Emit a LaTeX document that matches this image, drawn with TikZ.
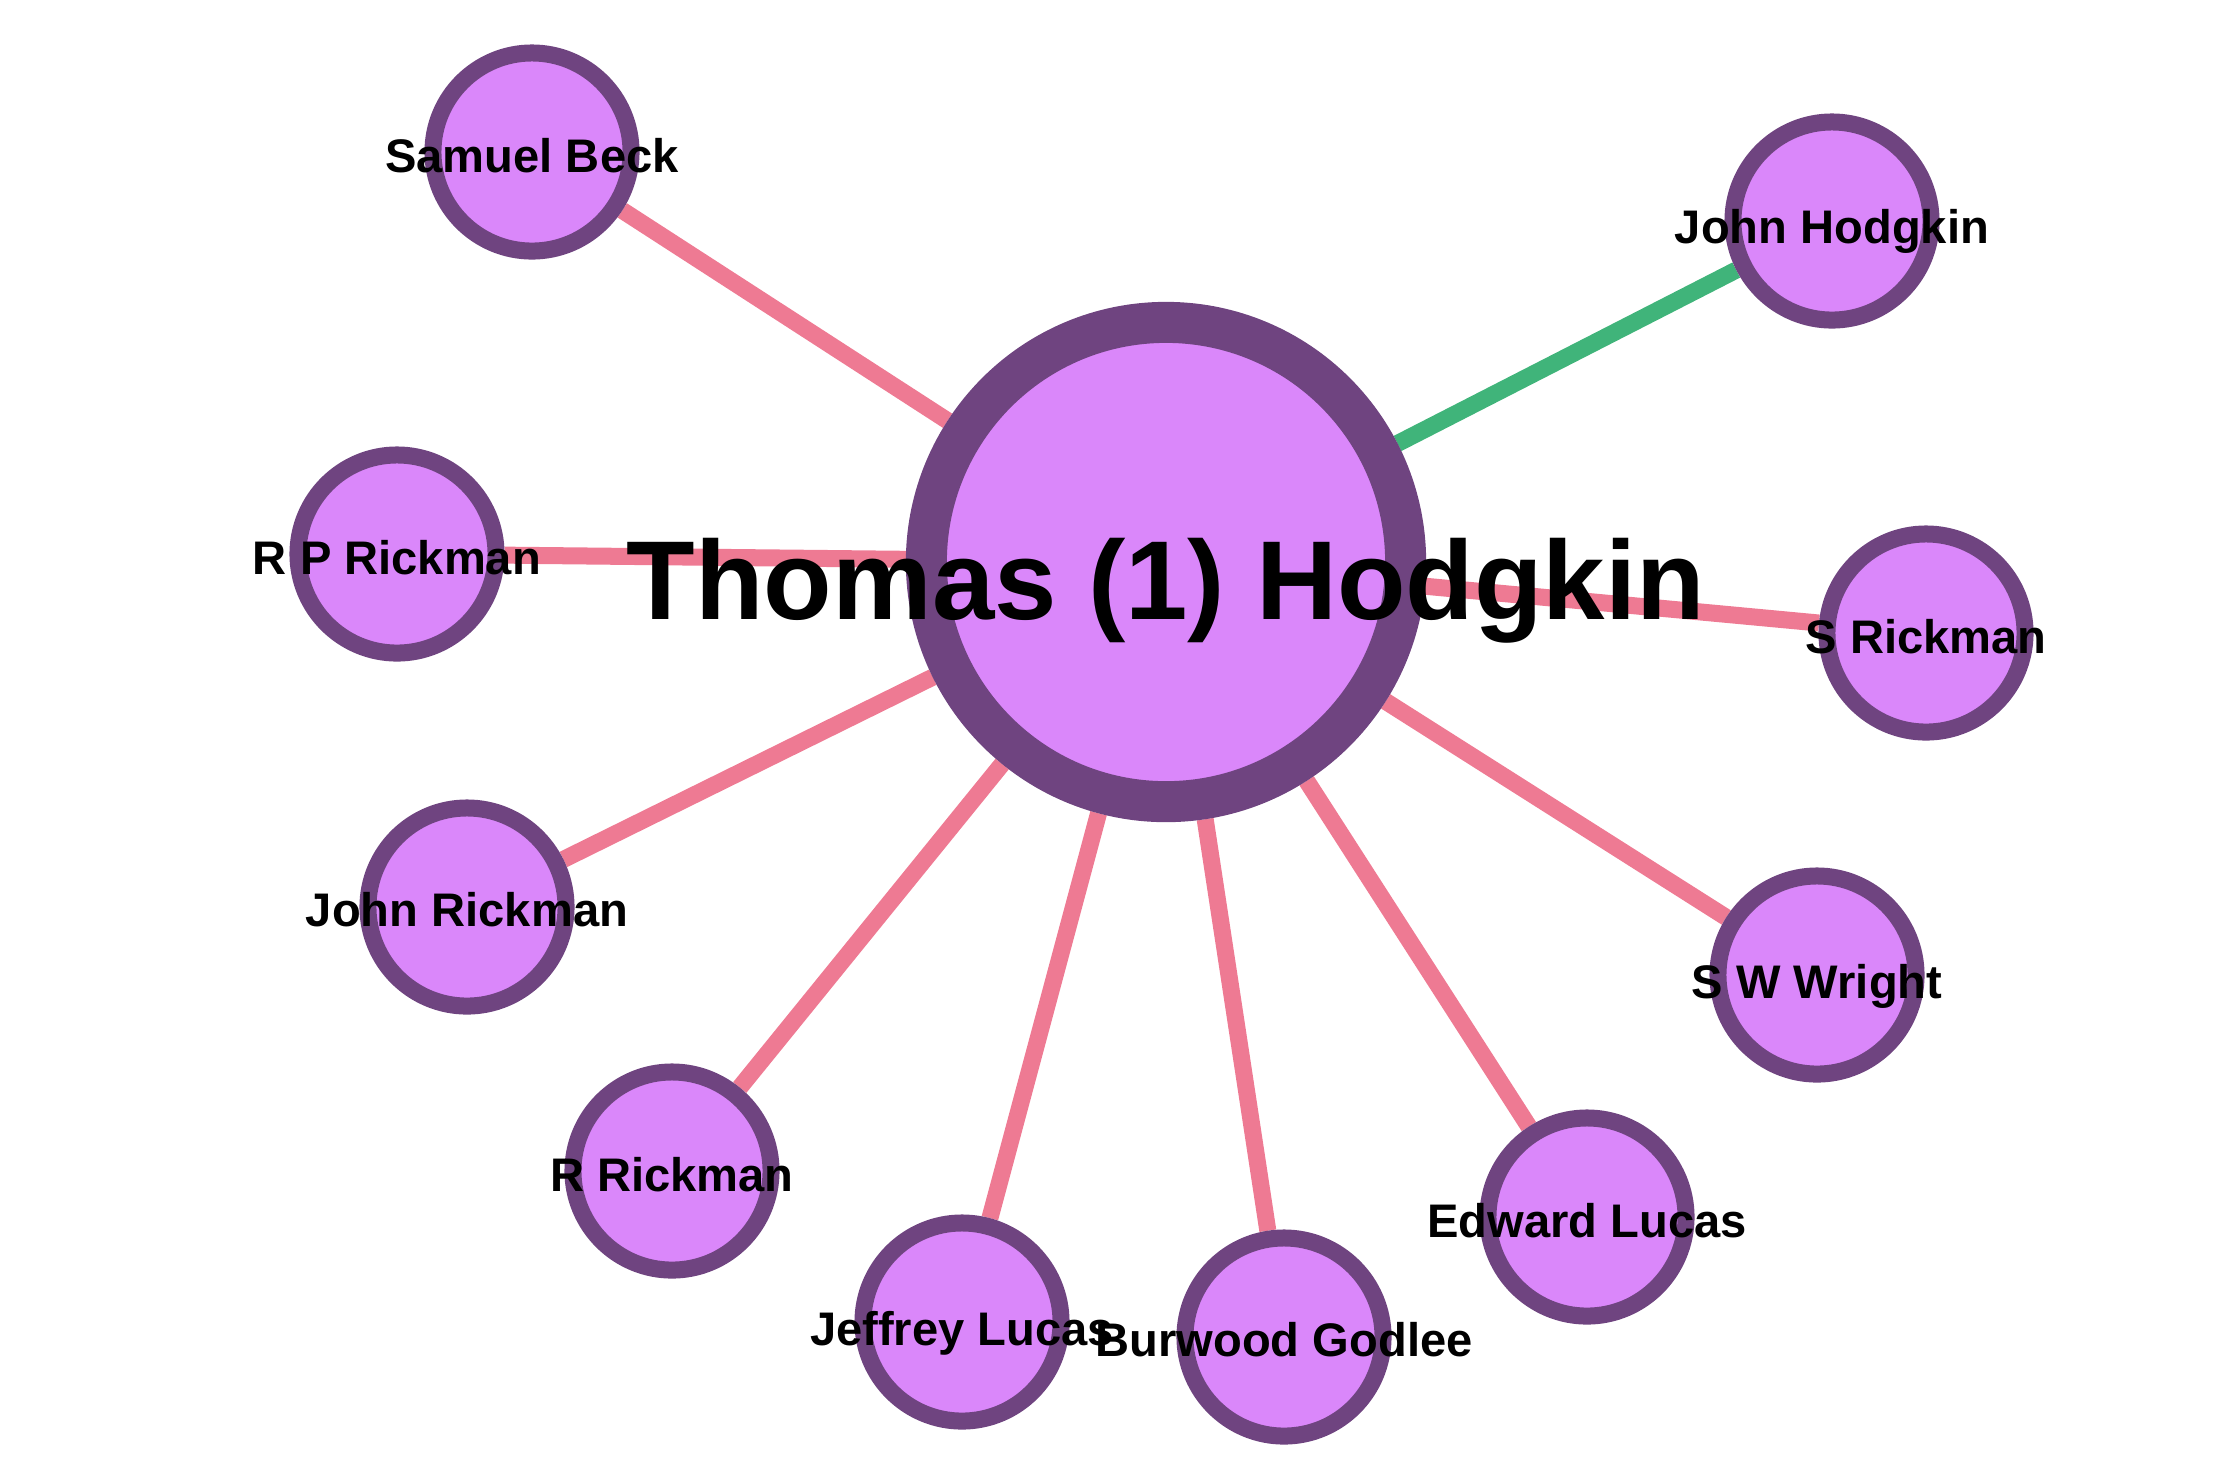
\documentclass[tikz,border=0pt]{standalone}
\usepackage{fontspec}
\setmainfont{Liberation Sans}
\usepackage{tikz}
\usetikzlibrary{backgrounds}

\definecolor{nodefill}{HTML}{DA87FA}
\definecolor{nodeline}{HTML}{6F4480}
\definecolor{tiepink}{HTML}{EE7A93}
\definecolor{tiegreen}{HTML}{40B47A}

\begin{document}
\begin{tikzpicture}[
    x=0.01cm,y=-0.01cm,
    person/.style={draw=nodeline,circle,fill=nodefill,line width=0.17cm,minimum size=1.98cm,inner sep=0pt},
    hub/.style={person,line width=0.41cm,minimum size=4.79cm},
    tag/.style={anchor=base,inner sep=0pt,font=\bfseries\fontsize{13.4}{16}\selectfont},
    bigtag/.style={tag,font=\bfseries\fontsize{31.9}{38}\selectfont},
    tie/.style={line width=0.17cm, tiepink},
    kin/.style={tie, tiegreen}
    ]
    \useasboundingbox (0,0) rectangle (2233,1465);
    \node[hub] (thomas) at (1166,562) {};
    \node[person] (beck) at (532,152) {};
    \node[person] (jhodgkin) at (1832,221) {};
    \node[person] (rprickman) at (397,554) {};
    \node[person] (srickman) at (1926,633) {};
    \node[person] (jrickman) at (467,907) {};
    \node[person] (swright) at (1817,975) {};
    \node[person] (rrickman) at (672,1171) {};
    \node[person] (jlucas) at (962,1322) {};
    \node[person] (godlee) at (1284,1337) {};
    \node[person] (elucas) at (1587,1217) {};
    \begin{scope}[on background layer]
      \draw[tie] (thomas) -- (beck);
      \draw[kin] (thomas) -- (jhodgkin);
      \draw[tie] (thomas) -- (rprickman);
      \draw[tie] (thomas) -- (srickman);
      \draw[tie] (thomas) -- (jrickman);
      \draw[tie] (thomas) -- (swright);
      \draw[tie] (thomas) -- (rrickman);
      \draw[tie] (thomas) -- (jlucas);
      \draw[tie] (thomas) -- (godlee);
      \draw[tie] (thomas) -- (elucas);
    \end{scope}
    \node[bigtag] (thomas-t) at ([yshift=-0.57cm]thomas.center) {Thomas (1) Hodgkin};
    \node[tag] (beck-t) at ([yshift=-0.2cm]beck.center) {Samuel Beck};
    \node[tag] (jhodgkin-t) at ([yshift=-0.22cm]jhodgkin.center) {John Hodgkin};
    \node[tag] (rprickman-t) at ([yshift=-0.2cm]rprickman.center) {R P Rickman};
    \node[tag] (srickman-t) at ([yshift=-0.2cm]srickman.center) {S Rickman};
    \node[tag] (jrickman-t) at ([yshift=-0.19cm]jrickman.center) {John Rickman};
    \node[tag] (swright-t) at ([yshift=-0.23cm]swright.center) {S W Wright};
    \node[tag] (rrickman-t) at ([yshift=-0.2cm]rrickman.center) {R Rickman};
    \node[tag] (jlucas-t) at ([yshift=-0.23cm]jlucas.center) {Jeffrey Lucas};
    \node[tag] (godlee-t) at ([yshift=-0.19cm]godlee.center) {Burwood Godlee};
    \node[tag] (elucas-t) at ([yshift=-0.2cm]elucas.center) {Edward Lucas};
  \end{tikzpicture}
\end{document}
